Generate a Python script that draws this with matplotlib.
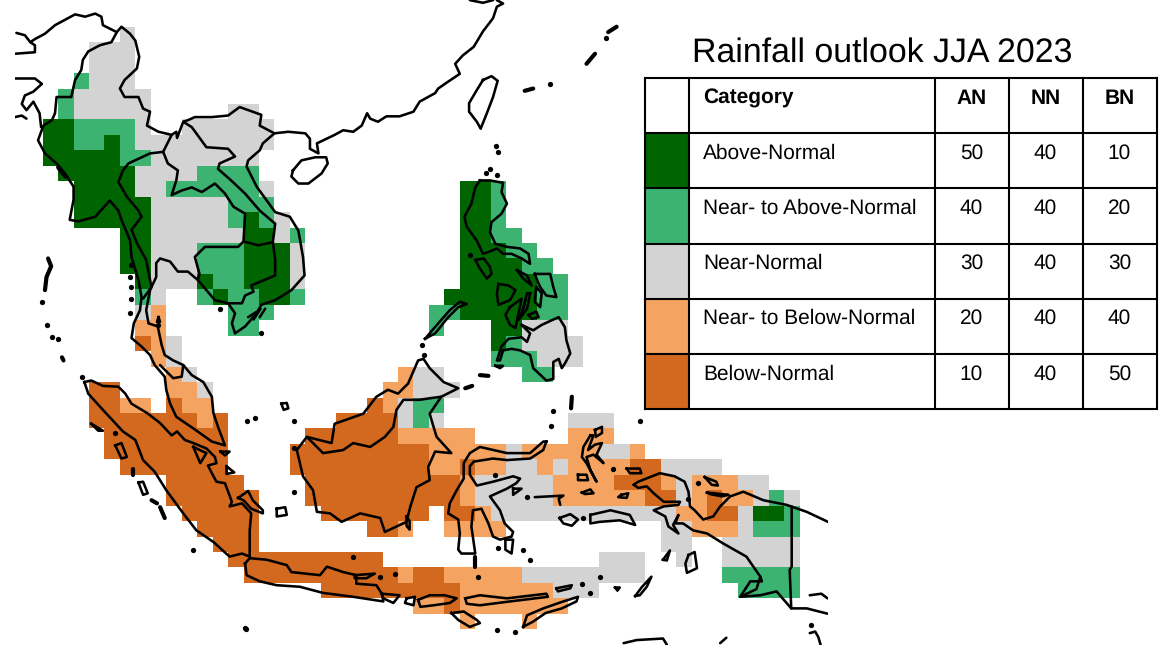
import numpy as np
import matplotlib
matplotlib.use("Agg")
import matplotlib.pyplot as plt
from matplotlib.colors import ListedColormap
from matplotlib.patches import Rectangle

plt.rcParams['font.family'] = ['Liberation Sans', 'DejaVu Sans']
plt.rcParams['text.hinting'] = 'no_hinting'

TITLE = "Rainfall outlook JJA 2023"
CATEGORIES = ["Above-Normal", "Near- to Above-Normal", "Near-Normal", "Near- to Below-Normal", "Below-Normal"]
AN = [50, 40, 30, 20, 10]
NN = [40, 40, 40, 40, 40]
BN = [10, 20, 30, 40, 50]
COLORS = ["#006400", "#3CB371", "#D3D3D3", "#F4A460", "#D2691E"]
CODES = "DNGOB"

# Outlook category per 1-degree cell: one string per latitude, runs as <category><first>-<last>, counted from FIRST_LON
FIRST_LON = 93
FIRST_LAT = 28
N_LON = 49
OUTLOOK_ROWS = [
    "G5", "G3-5", "G3-5", "N2 G3-5", "N1 G2-6", "N1 G2-6 G12-13",
    "D0-1 N2-5 G6 G9-14",
    "D0-1 N2-3 D4 N5 G6-14",
    "D0-4 N5-6 G7-13",
    "D1-5 G6-9 N10-13",
    "D2-5 G6-7 N8-13 G14 D27-28 N29",
    "D2-6 G7-11 N12-14 D27-28 N29",
    "D2-6 G7-11 N12 D13 N14 G15 D27-28 N29",
    "D5-6 G7-12 D13-14 G15 N16 D27-28 N29-30",
    "D5-6 G7-9 N10-12 D13-15 G16 D27-29 N30-31",
    "D5-6 G7-9 N10-12 D13-15 G16 D27-30 N31-32",
    "D6 G7-9 D10 N11-12 D13-15 G16 D27-31 N32-33",
    "N6 G7 N10 D11 N12-13 D14-15 N16 D26-31 N32-33",
    "G6 O7 N12-14 N25-26 D27-31 N32-33",
    "O6-7 N12-13 N25 D29-30 G31-33",
    "B6 O7 G8 D29 N30 G31-34",
    "O7 G8 N29-31 G32-34",
    "O8 G9 O23 G24-25 N31-32",
    "B3-4 O8-9 G10 O22-23 G24-26",
    "B3-4 O5-6 B8 O9-10 B21 O22 G23 N24-25",
    "B3-9 O10 B11 B19-22 G23 N24 G25 G34-36",
    "B4-11 B17-22 O23-27 O34-36",
    "B4-11 B16-24 O25-29 G30 O31-35 G36-37 O38",
    "B5-11 B16-24 O25-26 B27 O28-29 G30-31 O32 G33 O34-37 B38-39 G40-43",
    "B8-12 B17-26 O27 G28-32 O33-36 B37-39 O40 G41 O42-44 G45-46",
    "B8-13 B17-26 O27 G28-32 O33-38 B39-40 G41 O42 B43 O44-45 G46 N47 G48",
    "B9-13 B18-24 B26-27 O28 G29-40 O41-42 B43-44 G45 D46-47 N48",
    "B10-13 B21-22 O23 O26-29 G40-41 O42-44 G45 N46-48",
    "B11-13 G40-41 G44-48",
    "B12-21 G36-38 G41 G44-48",
    "B13-22 O23 B24-25 O26-30 G31-38 N44-48",
    "B18-26 O27-32 G33-35 N45-48",
    "O24-25 B26 O27-33",
    "O27 O31",
]

# Coast and border outlines, (lon, lat)
OPEN_LINES = [
    # India-China-Myanmar-Laos-Vietnam northern line and China coast
    [(90.8,28.1),(91.35,27.95),(91.7,27.5),(92.0,27.7),(92.65,28.05),(93.3,28.6),(94.6,29.3),(95.25,29.15),(95.9,29.35),(96.3,29.15),(96.4,28.6),(97.0,28.3),(97.3,28.15),(97.6,28.5),(98.15,28.05),(98.5,27.6),(98.75,26.55),(98.6,25.8),(97.8,25.05),(97.5,24.5),(97.8,23.95),(98.7,23.95),(99.0,23.2),(99.45,23.0),(99.25,22.1),(100.0,21.7),(100.85,21.5),(101.15,21.7),(101.2,21.3),(101.6,22.35),(101.9,22.45),(102.35,22.65),(102.9,22.65),(103.45,22.65),(104.5,22.75),(105.25,23.3),(106.65,22.8),(106.55,22.1),(107.5,21.6),(108.4,21.7),(109.5,21.6),(109.8,21.25),(109.8,20.6),(110.35,20.3),(110.25,20.95),(111.4,21.5),(111.95,21.8),(112.6,21.7),(113.15,22.1),(113.5,22.9),(113.7,22.55),(114.2,22.35),(114.75,22.7),(115.6,22.7),(116.5,23.0),(116.9,23.65),(117.9,24.2),(118.1,24.5),(118.75,24.95),(119.5,25.45),(119.2,26.1),(119.7,26.65),(120.4,27.2),(121.0,28.2),(121.65,29.05),(121.9,29.8),(122.3,30.0),(121.9,30.22)],
    [(120.15,30.22),(121.0,30.05),(121.65,30.22)],
    # Myanmar-India border and Myanmar-peninsula west coast
    [(97.3,28.15),(96.95,27.5),(96.2,27.3),(95.45,26.9),(95.1,26.35),(95.0,25.7),(94.6,25.05),(94.35,23.95),(93.4,23.95),(93.3,22.9),(93.1,22.45),(92.55,22.1),(92.2,21.15),(92.65,20.3),(93.4,19.65),(93.95,19.0),(94.5,18.15),(94.5,17.3),(94.25,16.0),(94.8,15.9),(95.9,16.2),(96.85,17.25),(97.4,16.6),(97.6,16.0),(98.15,14.7),(98.25,13.6),(98.7,12.1),(98.9,11.0),(98.8,10.15),(98.4,9.3),(98.25,8.35),(98.9,7.8),(99.45,7.25),(99.75,6.6),(100.4,5.85),(100.5,5.0),(100.75,4.1),(101.15,3.25),(102.25,2.5),(103.45,1.65),(104.3,1.4),(103.85,2.6),(103.55,3.5),(103.45,4.55),(102.9,5.5),(102.15,5.95),(101.6,6.6),(100.95,6.9),(100.4,7.25),(100.2,7.9),(99.95,9.1),(99.35,9.3),(99.2,10.15),(99.45,11.45),(99.85,12.3),(99.85,13.2),(100.1,13.5),(100.75,13.3),(101.25,12.65),(101.9,12.65),(102.55,12.1),(103.1,11.45),(103.65,10.8),(104.5,10.6),(104.95,9.95),(104.75,9.3),(104.95,8.65),(105.6,9.1),(106.35,9.95),(106.65,10.5),(107.55,10.8),(108.6,11.45),(109.45,12.4),(109.35,13.6),(109.05,15.3),(108.5,16.2),(107.55,16.5),(106.35,18.15),(105.7,19.45),(105.8,19.85),(106.55,20.5),(106.75,20.95),(107.5,21.6)],
    # Bangladesh and neighbours
    [(90.7,25.15),(92.0,25.15),(92.45,24.8),(91.9,24.3),(91.35,24.05),(91.15,23.5),(91.45,23.1),(91.9,23.65),(92.3,22.9),(92.4,22.0)],
    [(90.7,26.75),(92.0,26.85),(92.0,27.3),(91.7,27.5)],
    [(90.7,22.65),(91.15,22.75),(91.45,22.55)],
    # Myanmar-Thailand border
    [(100.85,21.5),(100.3,20.4),(99.45,20.3),(98.05,19.65),(97.7,19.2),(97.4,18.45),(97.95,17.5),(98.7,16.6),(98.9,16.2),(98.25,15.35),(98.6,14.5),(99.2,13.4),(99.45,12.1),(99.55,11.65),(99.0,10.9)],
    # Thailand-Laos-Cambodia border
    [(100.3,20.4),(100.6,19.65),(101.25,19.2),(101.15,18.55),(100.85,17.6),(101.5,17.9),(102.15,18.1),(102.8,17.8),(103.65,18.35),(104.3,17.7),(104.85,16.85),(105.6,16.4),(105.5,14.6),(105.15,14.25),(103.0,14.25),(102.35,13.6),(102.65,12.5),(102.55,12.1)],
    # Laos-Vietnam border
    [(101.6,22.35),(102.15,22.0),(103.1,20.7),(104.5,20.6),(104.95,20.1),(103.95,19.65),(103.85,19.3),(104.7,18.55),(105.6,17.7),(106.55,16.6),(107.55,15.75),(107.4,14.55)],
    [(105.5,14.6),(106.45,14.35),(107.4,14.55),(107.55,13.4),(107.55,12.4),(106.0,11.75),(106.15,11.35),(105.6,11.1),(105.4,10.6),(104.5,10.6)],
    [(105.8,9.7),(106.35,10.05)], [(106.15,9.55),(106.6,10.25)], [(106.55,9.7),(106.9,10.25)],
    # Thailand-Malaysia border
    [(100.1,6.6),(100.95,5.75),(101.5,5.85),(101.6,6.6)],
    # Borneo border
    [(109.6,1.95),(110.65,0.9),(111.95,1.1),(112.6,1.55),(113.7,1.3),(114.65,1.95),(115.2,2.6),(115.4,3.7),(115.85,4.35),(116.9,4.35),(117.55,4.45),(118.3,4.55)],
    # New Guinea north coast
    [(130.75,-1.15),(131.05,-0.95),(132.45,-0.4),(133.4,-0.6),(134.05,-0.95),(134.3,-1.6),(134.4,-2.55),(134.7,-2.8),(135.25,-3.4),(135.9,-3.2),(136.35,-2.55),(137.0,-1.9),(137.85,-1.6),(139.15,-2.15),(140.65,-2.45),(141.95,-2.9),(143.33,-3.55)],
    # New Guinea south coast
    [(130.75,-1.15),(131.05,-1.35),(131.6,-1.25),(132.05,-1.7),(132.7,-2.25),(133.75,-2.25),(133.65,-2.45),(132.7,-2.55),(132.05,-2.8),(132.8,-3.2),(133.0,-3.85),(133.65,-4.3),(133.3,-3.75),(133.65,-3.1),(133.45,-3.65),(133.95,-3.65),(134.6,-4.1),(135.5,-4.3),(136.55,-4.95),(138.05,-5.8),(138.95,-7.1),(139.05,-7.4),(138.3,-7.4),(137.65,-8.4),(138.95,-8.3),(140.0,-8.05),(140.95,-9.15),(141.95,-9.15),(143.33,-9.5)],
    [(138.95,-7.1),(138.7,-7.9),(137.65,-8.4)],
    [(140.98,-2.55),(140.98,-6.45),(140.85,-6.65),(140.95,-9.15)],
    [(142.15,-8.3),(142.9,-8.2),(143.3,-8.5)],
    # Australia
    [(130.1,-11.4),(130.95,-11.2),(132.65,-11.1),(132.9,-11.5)],
    [(136.35,-11.4),(136.75,-11.05)],
    [(142.15,-10.75),(142.5,-10.65),(142.7,-11.0),(142.85,-11.5)],
    [(124.35,-1.95),(126.2,-1.85),(125.9,-2.05),(126.0,-2.45)],
]

# Narrow islands that read as heavy strokes
THICK_LINES = [
    [(92.85,13.5),(93.05,13.0),(92.75,12.3),(92.65,11.45)],
    [(93.5,19.4),(93.95,18.8)],
    [(127.7,26.1),(128.25,26.75)], [(129.1,28.15),(129.65,28.5)], [(123.7,24.35),(124.25,24.5)],
    [(98.35,-0.1),(98.35,-0.5)], [(99.55,-2.15),(99.9,-2.35)], [(100.1,-2.6),(100.4,-3.3)],
    [(120.5,-5.8),(120.5,-6.45)], [(126.75,4.55),(126.7,3.8)], [(120.8,5.95),(121.35,5.9)], [(119.85,5.1),(120.3,5.25)],
    [(93.75,7.1),(93.85,6.9)],
]

CLOSED_LINES = [
    # Hainan, Taiwan
    [(108.7,19.2),(109.25,19.85),(110.15,20.05),(110.85,20.05),(110.95,19.65),(110.55,19.0),(109.7,18.35),(109.05,18.35),(108.6,18.8)],
    [(121.0,25.05),(121.55,25.3),(121.95,25.0),(121.65,23.95),(121.25,22.9),(120.85,21.9),(120.6,22.35),(120.1,23.0),(120.1,23.55),(120.6,24.4)],
    # Philippines
    [(120.8,18.55),(121.45,18.55),(122.3,18.4),(122.2,17.8),(122.55,17.05),(122.2,16.4),(121.55,15.85),(121.45,15.2),(121.8,14.45),(122.55,14.25),(123.4,14.15),(123.95,13.8),(124.05,13.15),(123.5,13.5),(122.85,13.8),(122.3,13.8),(121.9,14.15),(121.45,13.95),(121.0,13.8),(120.6,14.65),(119.95,15.55),(119.8,16.2),(120.25,17.05),(120.5,18.1)],
    [(120.5,13.4),(121.05,13.5),(121.45,12.95),(121.55,12.5),(121.25,12.2),(120.8,12.85)],
    [(124.35,12.5),(125.35,12.5),(125.55,11.65),(125.75,11.0),(125.1,11.1),(124.7,11.65),(124.5,12.1)],
    [(122.0,11.85),(122.65,11.75),(123.1,11.45),(122.75,10.8),(122.0,10.5),(121.9,11.2)],
    [(122.75,10.35),(123.5,10.9),(123.3,9.95),(123.1,9.0),(122.75,9.2),(122.45,9.85)],
    [(124.05,11.25),(123.85,10.25),(123.3,9.5),(123.6,10.25),(123.85,11.25)],
    [(123.95,9.85),(124.45,10.05),(124.6,9.7),(124.15,9.6)],
    [(124.45,11.65),(124.8,11.25),(124.7,10.35),(124.35,10.7)],
    [(123.2,12.75),(123.85,12.4),(124.15,11.75),(123.6,12.2)],
    [(123.5,9.2),(124.25,8.85),(124.8,9.2),(125.45,9.5),(125.9,9.7),(126.3,9.05),(126.4,8.2),(126.65,7.35),(126.3,6.7),(126.1,6.4),(125.9,7.0),(125.55,6.8),(125.55,5.7),(125.1,5.6),(124.25,6.4),(124.05,7.25),(123.4,7.55),(122.85,7.65),(122.3,7.55),(122.1,6.9),(121.9,6.9),(122.2,7.8),(122.65,8.3),(123.5,8.4),(123.85,8.1),(124.05,8.65)],
    [(117.25,8.3),(117.8,8.95),(118.85,10.15),(119.5,10.7),(119.95,10.55),(119.4,10.35),(118.75,9.7),(117.9,8.65)],
    [(121.8,6.55),(122.3,6.55),(122.1,6.4)],
    # Sumatra and islands
    [(95.2,5.5),(95.65,5.6),(96.4,5.25),(97.4,5.2),(97.85,4.75),(98.25,4.1),(99.25,3.5),(100.1,2.85),(100.85,2.05),(101.2,2.3),(101.7,1.75),(102.25,1.55),(103.1,1.2),(103.65,0.65),(103.75,0.25),(103.2,0.1),(103.45,-0.4),(103.75,-0.95),(104.3,-1.05),(104.75,-2.25),(104.6,-2.55),(105.4,-2.35),(106.0,-3.0),(105.9,-4.1),(105.9,-5.8),(105.4,-5.6),(104.6,-5.8),(103.55,-4.85),(102.45,-4.1),(101.6,-3.0),(100.5,-1.5),(99.75,-0.3),(99.0,0.45),(98.5,1.75),(97.7,2.3),(96.4,3.7),(95.45,4.75)],
    [(95.65,2.8),(96.4,2.35),(96.1,2.35)],
    [(97.2,1.4),(97.6,1.55),(97.95,0.65),(97.6,0.55)],
    [(98.7,-1.0),(99.0,-0.95),(99.3,-1.7),(99.0,-1.8)],
    [(102.25,1.3),(103.1,0.9),(102.7,0.25)],
    [(104.0,1.0),(104.6,1.0),(104.3,0.75)],
    [(104.4,0.05),(104.9,-0.35),(104.4,-0.45)],
    [(105.15,-2.0),(105.8,-1.55),(106.1,-2.15),(106.75,-2.8),(106.75,-3.0),(106.0,-2.7),(105.5,-2.15)],
    [(107.65,-2.7),(108.2,-2.6),(108.3,-3.1),(107.65,-3.2)],
    [(107.95,4.1),(108.3,4.15),(108.4,3.8),(108.1,3.7)],
    # Borneo
    [(108.95,1.1),(109.15,0.25),(109.35,-0.6),(110.0,-1.5),(110.25,-2.9),(111.1,-3.0),(111.85,-3.55),(113.05,-3.0),(114.35,-3.3),(114.65,-4.2),(116.05,-3.55),(116.3,-2.55),(116.7,-1.3),(117.55,-0.85),(117.45,0.0),(117.9,1.0),(118.95,0.9),(118.0,1.95),(117.8,2.6),(117.55,3.45),(118.3,4.55),(119.4,5.1),(118.45,5.5),(117.55,6.4),(117.15,7.0),(116.8,6.9),(116.15,5.4),(115.5,4.75),(114.85,5.0),(114.1,4.55),(113.25,3.45),(111.4,2.8),(111.2,1.55),(109.6,1.95)],
    [(116.05,-3.2),(116.25,-3.5),(116.25,-4.05),(116.05,-3.8)],
    # Java and Lesser Sunda
    [(105.6,-6.25),(105.9,-5.9),(107.0,-6.0),(108.3,-6.35),(108.6,-6.8),(110.45,-7.0),(110.9,-6.45),(111.95,-6.8),(112.8,-7.0),(112.8,-7.55),(114.1,-7.65),(114.45,-8.2),(114.55,-8.7),(112.6,-8.4),(110.65,-8.15),(109.15,-7.75),(107.65,-7.65),(106.55,-7.4),(105.7,-7.0)],
    [(112.7,-7.0),(114.0,-6.9),(113.45,-7.2),(112.7,-7.2)],
    [(114.45,-8.2),(115.6,-8.3),(115.2,-8.8),(114.55,-8.5)],
    [(116.05,-8.5),(116.6,-8.4),(116.5,-8.95),(115.95,-8.8)],
    [(116.8,-8.6),(117.55,-8.3),(118.5,-8.3),(119.3,-8.5),(118.85,-8.8),(117.8,-8.95),(116.95,-9.05)],
    [(119.85,-8.5),(120.8,-8.3),(122.55,-8.5),(125.1,-8.2),(125.2,-8.4),(122.75,-8.7),(120.8,-8.95),(119.95,-8.85)],
    [(118.95,-9.45),(119.75,-9.35),(120.6,-9.9),(120.8,-10.1),(120.15,-10.35),(119.4,-9.9)],
    [(123.6,-10.35),(123.85,-9.6),(124.9,-9.15),(126.2,-8.7),(127.15,-8.4),(127.05,-8.7),(126.1,-9.15),(125.05,-9.45),(124.25,-10.0)],
    [(125.75,-7.85),(126.75,-7.65),(126.65,-7.85),(125.85,-8.05)],
    [(130.85,-8.35),(131.3,-7.75),(131.9,-7.1),(131.6,-7.75),(131.15,-8.3)],
    [(129.55,-7.8),(129.85,-7.8),(129.7,-8.0)],
    # Sulawesi
    [(125.1,1.65),(124.9,1.1),(124.05,0.55),(122.55,0.45),(121.65,0.55),(120.4,0.35),(120.15,0.05),(120.15,-0.5),(120.6,-1.2),(121.65,-0.95),(122.95,-0.6),(123.4,-0.75),(123.15,-1.05),(122.55,-1.4),(121.45,-1.9),(122.1,-2.8),(122.4,-3.65),(122.95,-4.2),(122.85,-4.5),(122.1,-4.7),(121.65,-4.5),(121.35,-3.65),(120.9,-2.7),(120.35,-2.8),(120.25,-3.85),(120.5,-5.6),(119.6,-5.6),(119.4,-5.35),(119.5,-4.3),(119.4,-3.4),(118.75,-3.0),(118.85,-2.35),(119.3,-1.5),(119.75,-0.75),(119.75,0.25),(120.15,0.9),(120.8,1.3),(122.55,0.9),(124.05,0.9),(124.9,1.65)],
    [(122.45,-4.7),(122.95,-4.7),(122.85,-5.6),(122.45,-5.35)],
    [(122.95,-1.4),(123.5,-1.4),(122.95,-1.8)],
    # Moluccas
    [(125.95,-3.3),(126.65,-3.05),(127.15,-3.4),(126.75,-3.8),(126.2,-3.65)],
    [(127.95,-3.1),(129.25,-2.8),(130.5,-3.1),(130.85,-3.75),(129.85,-3.45),(128.55,-3.55),(127.95,-3.65)],
    [(128.25,2.4),(128.7,2.6),(128.7,2.2),(128.3,1.95)],
    [(127.95,2.05),(127.5,1.3),(127.4,0.65),(127.7,0.25),(128.05,-0.4),(128.35,-0.95),(127.95,-0.2),(127.7,0.65),(128.15,0.8),(128.8,0.25),(128.35,0.8),(128.7,1.55),(128.25,1.45),(127.8,1.1),(128.15,2.05)],
    [(127.15,-0.5),(127.7,-0.5),(127.8,-0.85),(127.15,-0.85)],
    [(127.4,-1.65),(127.95,-1.45),(128.15,-1.7),(127.6,-1.75)],
    [(129.95,-1.8),(130.4,-1.7),(130.3,-2.0),(129.75,-1.95)],
    [(130.3,-0.1),(131.15,-0.1),(131.25,-0.4),(130.5,-0.4)],
    [(135.35,-0.65),(136.1,-0.95),(136.2,-1.2),(135.8,-1.15)],
    [(135.5,-1.65),(136.9,-1.8),(136.45,-1.9),(135.7,-1.75)],
    [(134.3,-5.7),(134.7,-5.5),(134.85,-6.55),(134.2,-6.85),(134.1,-6.25)],
    [(132.65,-6.0),(133.1,-5.4),(132.9,-6.05)],
    [(100.0,9.7),(100.1,9.4),(99.9,9.4)],
]

ISLET_LON = [92.43,92.75,93.1,93.5,98.25,98.15,98.25,98.25,98.15,106.6,104.0,128.95,125.35,121.85,122.0,121.45,121.2,121.9,117.05,117.2,120.15,97.2,102.25,95.05,105.7,106.25,108.8,108.8,105.65,105.6,120.7,124.05,127.4,128.6,127.9,121.9,123.1,123.6,122.0,123.85,121.8,125.55,125.4,131.15,129.4,134.3,134.9,127.5,112.6,114.35,115.3,142.2,108.75,99.95]
ISLET_LAT = [10.7,9.2,8.4,8.3,13.05,12.3,11.65,10.9,9.95,8.7,10.25,27.8,24.8,20.75,20.4,19.3,19.05,18.9,7.9,7.25,13.7,2.2,-5.4,5.85,2.95,3.15,2.95,-1.6,-10.5,-10.4,-7.1,-6.0,-7.6,-7.15,-8.15,-10.55,-10.65,-5.35,-5.25,-1.95,-0.5,3.6,2.65,3.0,-0.1,-2.1,-1.05,-3.3,-5.8,-7.1,-6.9,-10.2,1.2,9.2]

def expand_rows(rows, n_lon):
    grid = np.full((len(rows), n_lon), np.nan)
    for j, row in enumerate(rows):
        for run in row.split():
            value = CODES.index(run[0])
            parts = run[1:].split("-")
            first, last = int(parts[0]), int(parts[-1])
            grid[j, first:last + 1] = value
    return np.ma.masked_invalid(grid)

fig = plt.figure(figsize=(11.59, 6.45), dpi=100, facecolor="white")

# Map axes: longitude / latitude, cropped to the reference's map area
W, H = 1159.0, 645.0
ax = fig.add_axes([15 / W, 0, (828 - 15) / W, 1])
grid = expand_rows(OUTLOOK_ROWS, N_LON)
lon_edges = FIRST_LON - 0.5 + np.arange(N_LON + 1)
lat_edges = FIRST_LAT + 0.5 - np.arange(len(OUTLOOK_ROWS) + 1)
ax.pcolormesh(lon_edges, lat_edges, grid, cmap=ListedColormap(COLORS), vmin=-0.5, vmax=4.5, shading="flat", linewidth=0, rasterized=True)
LW = 1.85
for line in OPEN_LINES:
    xs, ys = zip(*line)
    ax.plot(xs, ys, color="black", lw=LW, solid_joinstyle="round", solid_capstyle="round")
for line in THICK_LINES:
    xs, ys = zip(*line)
    ax.plot(xs, ys, color="black", lw=3.0, solid_joinstyle="round", solid_capstyle="round")
for line in CLOSED_LINES:
    xs, ys = zip(*(line + line[:1]))
    ax.plot(xs, ys, color="black", lw=LW, solid_joinstyle="round")
ax.plot(ISLET_LON, ISLET_LAT, ls="none", marker="o", ms=3.8, color="black", mew=0)
ax.set_xlim(90.71, 143.33)
ax.set_ylim(-11.52, 30.23)
ax.axis("off")

# Table axes: pixel scale of the figure
tx = fig.add_axes([0, 0, 1, 1], facecolor="none")
tx.set_xlim(0, W)
tx.set_ylim(H, 0)
tx.axis("off")
col_edges = [645, 689, 935, 1009, 1083, 1157]
row_edges = [78, 133, 188, 243.5, 299, 354, 409]
for i, color in enumerate(COLORS):
    tx.add_patch(Rectangle((col_edges[0], row_edges[i + 1]), col_edges[1] - col_edges[0], row_edges[i + 2] - row_edges[i + 1], facecolor=color, edgecolor="none"))
for x in col_edges:
    tx.plot([x, x], [row_edges[0], row_edges[-1]], color="black", lw=1.5, solid_capstyle="projecting")
for y in row_edges:
    tx.plot([col_edges[0], col_edges[-1]], [y, y], color="black", lw=1.5, solid_capstyle="projecting")

tx.text(692, 62, TITLE, fontsize=24.4, color="black", ha="left", va="baseline")
FS = 15
tx.text(703, 104, "Category", fontsize=FS, fontweight="bold", ha="left", va="baseline")
centers = [971.5, 1045.5, 1119.5]
for name, cx in zip(["AN", "NN", "BN"], centers):
    tx.text(cx, 104, name, fontsize=FS, fontweight="bold", ha="center", va="baseline")
for i, cat in enumerate(CATEGORIES):
    y = 158.5 + 55.2 * i
    tx.text(703, y, cat, fontsize=FS, ha="left", va="baseline")
    for vals, cx in zip([AN, NN, BN], centers):
        tx.text(cx, y, str(vals[i]), fontsize=FS, ha="center", va="baseline")

fig.savefig("out.png", dpi=100)
